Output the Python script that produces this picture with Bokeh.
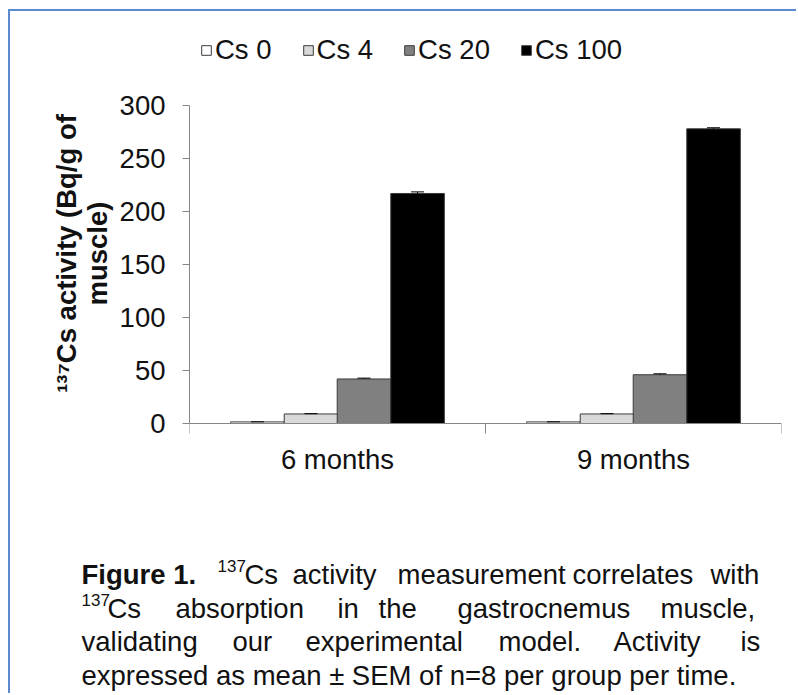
from bokeh.plotting import figure
from bokeh.models import (Range1d, FixedTicker, Legend, LegendItem, Label, ColumnDataSource)
from bokeh.transform import dodge
from bokeh.embed import file_html
from bokeh.resources import INLINE

# ---------------- data ----------------
periods = ["6 months", "9 months"]
series = ["Cs 0", "Cs 4", "Cs 20", "Cs 100"]
cs0 = [1.5, 1.5]
cs4 = [9, 9]
cs20 = [42, 46]
cs100 = [217, 278]
sem0 = [0.1, 0.1]
sem4 = [0.3, 0.3]
sem20 = [0.8, 0.9]
sem100 = [1.5, 1.0]
y_ticks = [0, 50, 100, 150, 200, 250, 300]
y_label = "\u00b9\u00b3\u2077Cs activity (Bq/g of\nmuscle)"

caption_lines = [
    [("Figure 1.", "bold"), ("137", "sup"), ("Cs", "n"), ("activity", "n"),
     ("measurement", "n"), ("correlates", "n"), ("with", "n")],
    [("137", "sup"), ("Cs", "n"), ("absorption", "n"), ("in", "n"), ("the", "n"),
     ("gastrocnemus", "n"), ("muscle,", "n")],
    [("validating", "n"), ("our", "n"), ("experimental", "n"), ("model.", "n"),
     ("Activity", "n"), ("is", "n")],
    [("expressed as mean \u00b1 SEM of n=8  per group per time.", "n")],
]

# ---------------- layout / style ----------------
FONT = "Liberation Sans"
TXT = "#111111"
BLUE = "2px solid #5a8ad0"
fills = ["#ffffff", "#d9d9d9", "#808080", "#000000"]
offsets = [-0.2705, -0.0895, 0.0895, 0.2705]
bar_w = 0.181
axis_col = "#868686"
n = len(periods)

# page geometry (body margin is 0)
OX, OY = 10, 11                      # content origin inside the blue frame
FL, FR = 189, 781                    # x extent of the axis
Y0, Y300 = 423, 105                  # pixel rows of y=0 and y=300
FRAME_B = 495                        # frame bottom (x axis is fixed at y=0)
MAIN_B = 547                         # bottom of the chart canvas / top of caption
W = 798 - OX
px_per_unit = (Y0 - Y300) / 300.0
y_end = (Y0 - OY) / px_per_unit
y_start = -(FRAME_B - Y0) / px_per_unit

p = figure(x_range=Range1d(0, n), y_range=Range1d(y_start, y_end),
           width=W, height=MAIN_B - OY, output_backend="svg", toolbar_location=None,
           min_border_left=FL - OX, min_border_right=OX + W - FR,
           min_border_top=0, min_border_bottom=MAIN_B - FRAME_B)
p.styles = {"margin-left": "8px", "margin-top": "9px",
            "border-top": BLUE, "border-left": BLUE}
p.outline_line_color = None
p.xgrid.visible = False
p.ygrid.visible = False
p.background_fill_color = "white"
p.border_fill_color = "white"

src = ColumnDataSource(dict(
    period=periods, idx=[i + 0.5 for i in range(n)],
    cs0=cs0, cs4=cs4, cs20=cs20, cs100=cs100,
    u0=[v + e for v, e in zip(cs0, sem0)], u4=[v + e for v, e in zip(cs4, sem4)],
    u20=[v + e for v, e in zip(cs20, sem20)], u100=[v + e for v, e in zip(cs100, sem100)],
))

cols = ["cs0", "cs4", "cs20", "cs100"]
ups = ["u0", "u4", "u20", "u100"]
items = []
for name, col, up, off, fc in zip(series, cols, ups, offsets, fills):
    r = p.vbar(x=dodge("idx", off), top=col, width=bar_w,
               source=src, fill_color=fc, line_color="#3a3a3a", line_width=1)
    items.append(LegendItem(label=name, renderers=[r]))
    p.segment(x0=dodge("idx", off), x1=dodge("idx", off),
              y0=col, y1=up, source=src, line_color="black", line_width=1)
    p.segment(x0=dodge("idx", off - 0.022), x1=dodge("idx", off + 0.022),
              y0=up, y1=up, source=src, line_color="black", line_width=1)

# y axis
ya = p.yaxis[0]
ya.ticker = FixedTicker(ticks=y_ticks)
ya.bounds = (y_ticks[0], y_ticks[-1])
ya.axis_line_color = axis_col
ya.major_tick_line_color = axis_col
ya.minor_tick_line_color = None
ya.major_tick_out = 7
ya.major_tick_in = 0
ya.major_label_standoff = 17
ya.major_label_text_font = FONT
ya.major_label_text_font_size = "27.5px"
ya.major_label_text_color = TXT
ya.axis_label = y_label
ya.axis_label_text_font = FONT
ya.axis_label_text_font_style = "bold"
ya.axis_label_text_font_size = "27.5px"
ya.axis_label_text_line_height = 1.0
ya.axis_label_text_color = TXT
ya.axis_label_standoff = 4

# x axis fixed at y=0: labels at group centres, ticks at group boundaries
xa = p.xaxis[0]
xa.fixed_location = 0
xa.ticker = FixedTicker(ticks=[i + 0.5 for i in range(n)], minor_ticks=list(range(n + 1)))
xa.major_label_overrides = {i + 0.5: lab for i, lab in enumerate(periods)}
xa.axis_line_color = axis_col
xa.major_tick_line_color = None
xa.major_tick_out = 0
xa.major_tick_in = 0
xa.minor_tick_line_color = axis_col
xa.minor_tick_out = 10
xa.minor_tick_in = 0
xa.major_label_standoff = 10
xa.major_label_text_font = FONT
xa.major_label_text_font_size = "27.5px"
xa.major_label_text_color = TXT

# legend (inside the tall frame, above the bars)
legend = Legend(items=items, orientation="horizontal", location=(201 - FL - 1, FRAME_B - 66),
                glyph_width=12, glyph_height=12, label_standoff=3, spacing=30,
                label_height=32, padding=0, margin=0, border_line_color=None,
                background_fill_alpha=0, label_text_font=FONT,
                label_text_font_size="27.5px", label_text_color=TXT)
p.add_layout(legend)

# caption panel (separate root so its frame is not aligned to the chart's)
cap = figure(x_range=Range1d(OX, 798), y_range=Range1d(695, MAIN_B),
             width=W, height=695 - MAIN_B, output_backend="svg", toolbar_location=None,
             x_axis_location=None, y_axis_location=None,
             min_border=0, min_border_left=0, min_border_right=0,
             min_border_top=0, min_border_bottom=0)
cap.styles = {"margin-left": "8px", "border-left": BLUE}
cap.outline_line_color = None
cap.xgrid.visible = False
cap.ygrid.visible = False
cap.background_fill_color = "white"
cap.border_fill_color = "white"

line_base = [576, 610, 643, 677]
word_x = [
    [81, 217, 244, 292, 397, 572, 710],
    [81, 107, 175, 337, 378, 457, 660],
    [81, 232, 305, 498, 613, 740],
    [81],
]
for words, xs, yb in zip(caption_lines, word_x, line_base):
    for (txt, sty), x in zip(words, xs):
        size = "17px" if sty == "sup" else "27.5px"
        yy = yb - 9 if sty == "sup" else yb
        cap.add_layout(Label(x=x, y=yy, text=txt, text_font=FONT, text_font_size=size,
                             text_font_style="bold" if sty == "bold" else "normal",
                             text_color=TXT, text_align="left",
                             text_baseline="alphabetic"))

open("out.html", "w").write(file_html([p, cap], INLINE))
